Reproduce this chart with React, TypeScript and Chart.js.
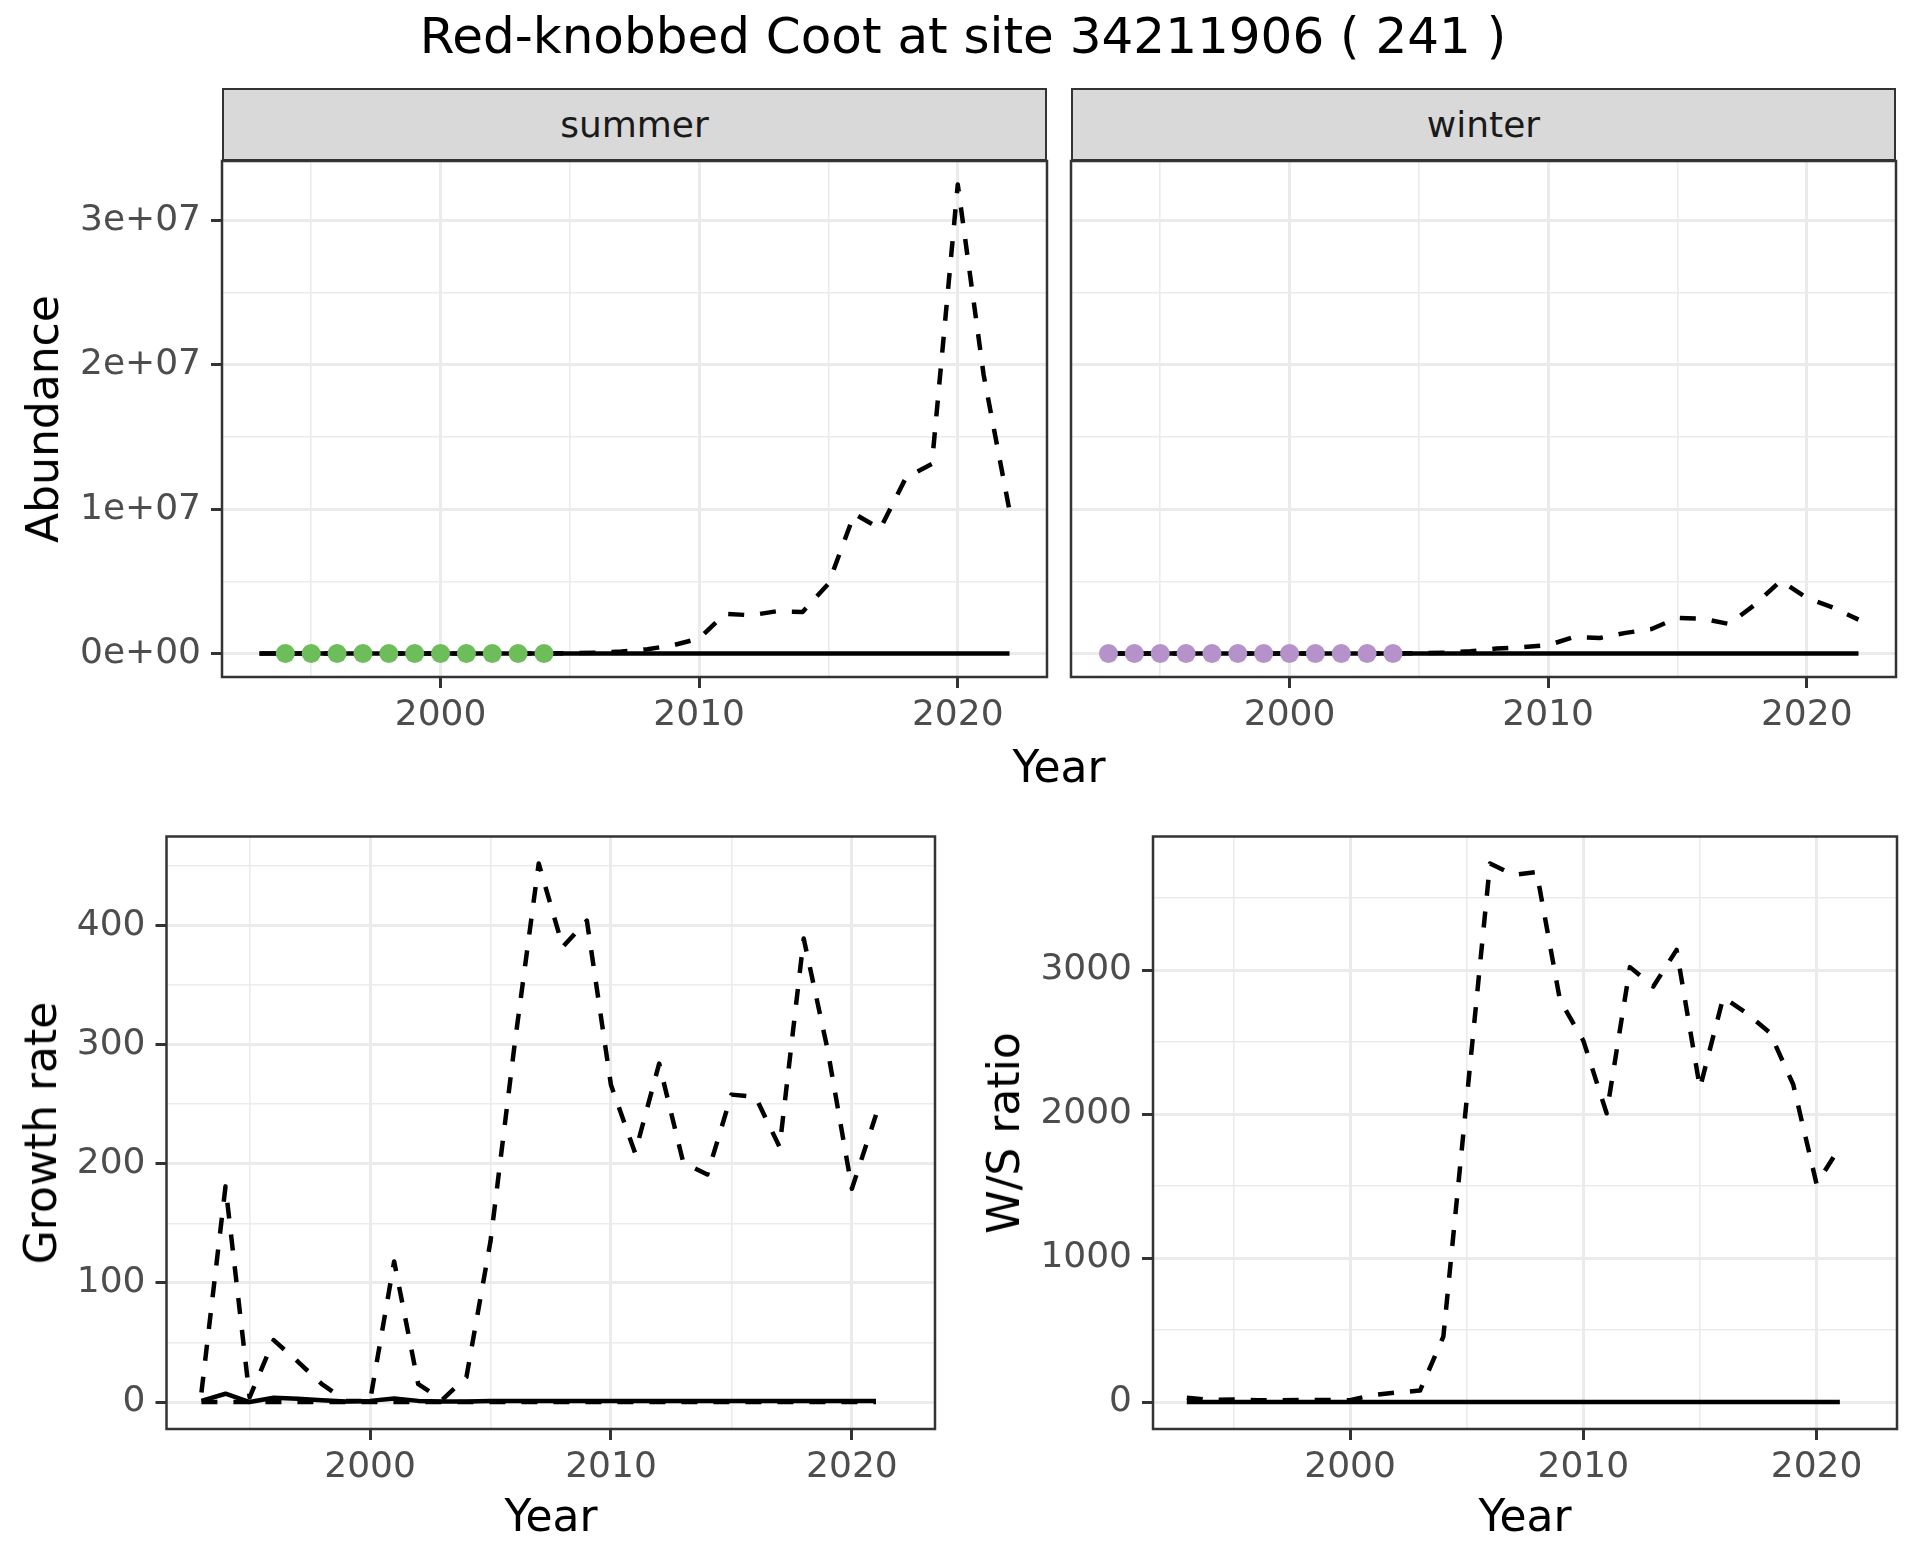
import React, { useEffect, useRef } from "react";
import { Chart, registerables } from "chart.js";

Chart.register(...registerables);

const FONT = "'DejaVu Sans', 'Liberation Sans', sans-serif";

// ---------- data ----------
const YEARS = [1993, 1994, 1995, 1996, 1997, 1998, 1999, 2000, 2001, 2002, 2003, 2004, 2005, 2006, 2007, 2008, 2009, 2010, 2011, 2012, 2013, 2014, 2015, 2016, 2017, 2018, 2019, 2020, 2021, 2022];
const SUMMER_SOLID = [0, 0, 0, 0, 0, 0, 0, 0, 0, 0, 0, 0, 0, 0, 0, 0, 0, 0, 0, 0, 0, 0, 0, 0, 0, 0, 0, 0, 0, 0];
const SUMMER_DASHED = [0, 0, 0, 0, 0, 0, 0, 0, 0, 0, 0, 0, 20000, 50000, 140000, 300000, 580000, 1040000, 2760000, 2650000, 2930000, 2880000, 4840000, 9680000, 8640000, 12200000, 13130000, 32490000, 19300000, 9900000];
const WINTER_SOLID = [0, 0, 0, 0, 0, 0, 0, 0, 0, 0, 0, 0, 0, 0, 0, 0, 0, 0, 0, 0, 0, 0, 0, 0, 0, 0, 0, 0, 0, 0];
const WINTER_DASHED = [0, 0, 0, 0, 0, 0, 0, 0, 0, 0, 0, 0, 20000, 50000, 160000, 350000, 440000, 580000, 1150000, 1080000, 1430000, 1700000, 2470000, 2400000, 2050000, 3390000, 5050000, 3850000, 3200000, 2350000];
const SUMMER_POINT_YEARS = [1994, 1995, 1996, 1997, 1998, 1999, 2000, 2001, 2002, 2003, 2004];
const SUMMER_POINT_VALUES = [0, 0, 0, 0, 0, 0, 0, 0, 0, 0, 0];
const WINTER_POINT_YEARS = [1993, 1994, 1995, 1996, 1997, 1998, 1999, 2000, 2001, 2002, 2003, 2004];
const WINTER_POINT_VALUES = [0, 0, 0, 0, 0, 0, 0, 0, 0, 0, 0, 0];

const RATE_YEARS = [1993, 1994, 1995, 1996, 1997, 1998, 1999, 2000, 2001, 2002, 2003, 2004, 2005, 2006, 2007, 2008, 2009, 2010, 2011, 2012, 2013, 2014, 2015, 2016, 2017, 2018, 2019, 2020, 2021];
const GROWTH_SOLID = [1, 7, 0, 3.6, 2.8, 1.5, 0.5, 1, 3, 1, 0.5, 0.5, 1, 1, 1, 1, 1, 1, 1, 1, 1, 1, 1, 1, 1, 1, 1, 1, 1];
const GROWTH_DASHED = [8, 181, 4, 52, 34, 15, 1, 1, 118, 15, 2, 21, 135, 300, 452, 382, 404, 266, 209, 284, 201, 191, 258, 256, 214, 389, 295, 179, 241];
const GROWTH_DASHED_LOW = [0, 0, 0, 0, 0, 0, 0, 0, 0, 0, 0, 0, 0, 0, 0, 0, 0, 0, 0, 0, 0, 0, 0, 0, 0, 0, 0, 0, 0];
const WS_SOLID = [0, 0, 0, 0, 0, 0, 0, 0, 0, 0, 0, 0, 0, 0, 0, 0, 0, 0, 0, 0, 0, 0, 0, 0, 0, 0, 0, 0, 0];
const WS_DASHED = [30, 14, 18, 13, 13, 14, 14, 13, 50, 66, 80, 455, 2100, 3740, 3660, 3680, 2790, 2510, 2005, 3020, 2885, 3140, 2180, 2810, 2700, 2565, 2205, 1515, 1770];

// ---------- ticks ----------
const X_TICKS = [1995, 2000, 2005, 2010, 2015, 2020];
const X_LABELED = [2000, 2010, 2020];
const ABUND_TICKS = [0, 5000000, 10000000, 15000000, 20000000, 25000000, 30000000];
const ABUND_MAJOR = [0, 10000000, 20000000, 30000000];
const ABUND_LABELS = ["0e+00", "1e+07", "2e+07", "3e+07"];
const GROWTH_TICKS = [0, 50, 100, 150, 200, 250, 300, 350, 400, 450];
const GROWTH_MAJOR = [0, 100, 200, 300, 400];
const GROWTH_LABELS = ["0", "100", "200", "300", "400"];
const WS_TICKS = [0, 500, 1000, 1500, 2000, 2500, 3000, 3500];
const WS_MAJOR = [0, 1000, 2000, 3000];
const WS_LABELS = ["0", "1000", "2000", "3000"];

const X_RANGE = [1991.55, 2023.45];
const ABUND_RANGE = [-1624500, 34114500];
const GROWTH_RANGE = [-22.6, 474.6];
const WS_RANGE = [-187, 3927];

const GREEN = "#6DBE5B";
const PURPLE = "#B592C9";

const pts = (xs: number[], ys: number[]) => xs.map((x, i) => ({ x, y: ys[i] }));

const LW = 4.5;
const solid = (data: any) => ({ data, borderColor: "#000000", borderWidth: LW, borderJoinStyle: "round", pointRadius: 0, tension: 0, fill: false });
const dashed = (data: any) => ({ data, borderColor: "#000000", borderWidth: LW, borderJoinStyle: "round", borderDash: [16, 16], pointRadius: 0, tension: 0, fill: false });
const dots = (data: any, color: string) => ({ data, showLine: false, pointRadius: 9.5, pointBackgroundColor: color, pointBorderWidth: 0, borderColor: color, backgroundColor: color });

const panelBorder = {
  id: "panelBorder",
  afterDraw(chart: any) {
    const { ctx, chartArea: a } = chart;
    ctx.save();
    ctx.strokeStyle = "#333333";
    ctx.lineWidth = 2.5;
    ctx.strokeRect(a.left, a.top, a.right - a.left, a.bottom - a.top);
    ctx.restore();
  },
};

type PanelSpec = {
  left: number; top: number; width: number; height: number;
  yWidth: number; xHeight: number; padTop: number; padRight: number;
  datasets: any[]; yRange: number[]; yTicks: number[]; yMajor: number[]; yLabels: string[]; showY: boolean;
};

const zeroPad = (s: any) => {
  s.paddingTop = 0;
  s.paddingBottom = 0;
  s.paddingLeft = 0;
  s.paddingRight = 0;
};

function build(canvas: HTMLCanvasElement, p: PanelSpec) {
  const isXMajor = (v: number) => X_LABELED.includes(v);
  const isYMajor = (v: number) => p.yMajor.includes(v);
  return new Chart(canvas, {
    type: "line",
    data: { datasets: p.datasets },
    options: {
      animation: false,
      responsive: false,
      devicePixelRatio: 1,
      events: [],
      layout: { padding: { left: 0, top: p.padTop, right: p.padRight, bottom: 0 } },
      plugins: { legend: { display: false }, tooltip: { enabled: false }, title: { display: false } },
      scales: {
        x: {
          type: "linear",
          min: X_RANGE[0],
          max: X_RANGE[1],
          afterBuildTicks: (s: any) => { s.ticks = X_TICKS.map((v) => ({ value: v })); },
          afterFit: (s: any) => { s.height = p.xHeight; zeroPad(s); },
          ticks: {
            autoSkip: false, maxRotation: 0, minRotation: 0, padding: 6, color: "#4D4D4D",
            font: { size: 36, family: FONT },
            callback: (v: any) => (isXMajor(Number(v)) ? String(v) : ""),
          },
          grid: {
            color: "#EBEBEB",
            lineWidth: (c: any) => (c.tick && isXMajor(c.tick.value) ? 3 : 1.6),
            tickLength: 11,
            tickWidth: 3,
            tickColor: (c: any) => (c.tick && isXMajor(c.tick.value) ? "#333333" : "rgba(0,0,0,0)"),
          },
          border: { display: false },
        },
        y: {
          type: "linear",
          min: p.yRange[0],
          max: p.yRange[1],
          afterBuildTicks: (s: any) => { s.ticks = p.yTicks.map((v) => ({ value: v })); },
          afterFit: (s: any) => { s.width = p.yWidth; zeroPad(s); },
          ticks: {
            display: p.showY,
            autoSkip: false, padding: 10, color: "#4D4D4D",
            font: { size: 36, family: FONT },
            callback: (v: any) => {
              const i = p.yMajor.indexOf(Number(v));
              return i >= 0 ? p.yLabels[i] : "";
            },
          },
          grid: {
            color: "#EBEBEB",
            lineWidth: (c: any) => (c.tick && isYMajor(c.tick.value) ? 3 : 1.6),
            tickLength: 11,
            tickWidth: 3,
            tickColor: (c: any) => (p.showY && c.tick && isYMajor(c.tick.value) ? "#333333" : "rgba(0,0,0,0)"),
          },
          border: { display: false },
        },
      },
    } as any,
    plugins: [panelBorder],
  });
}

function Panel({ spec }: { spec: PanelSpec }) {
  const ref = useRef<HTMLCanvasElement>(null);
  useEffect(() => {
    const c = build(ref.current as HTMLCanvasElement, spec);
    return () => c.destroy();
  }, []);
  return (
    <canvas
      ref={ref}
      width={spec.width}
      height={spec.height}
      style={{ position: "absolute", left: spec.left, top: spec.top, width: spec.width, height: spec.height }}
    />
  );
}

const summerSpec: PanelSpec = {
  left: 0, top: 150, width: 1060, height: 600, yWidth: 222, xHeight: 73, padTop: 11, padRight: 13,
  datasets: [
    dots(pts(SUMMER_POINT_YEARS, SUMMER_POINT_VALUES), GREEN),
    solid(pts(YEARS, SUMMER_SOLID)),
    dashed(pts(YEARS, SUMMER_DASHED)),
  ],
  yRange: ABUND_RANGE, yTicks: ABUND_TICKS, yMajor: ABUND_MAJOR, yLabels: ABUND_LABELS, showY: true,
};
const winterSpec: PanelSpec = {
  left: 1060, top: 150, width: 850, height: 600, yWidth: 11, xHeight: 73, padTop: 11, padRight: 14,
  datasets: [
    dots(pts(WINTER_POINT_YEARS, WINTER_POINT_VALUES), PURPLE),
    solid(pts(YEARS, WINTER_SOLID)),
    dashed(pts(YEARS, WINTER_DASHED)),
  ],
  yRange: ABUND_RANGE, yTicks: ABUND_TICKS, yMajor: ABUND_MAJOR, yLabels: ABUND_LABELS, showY: false,
};
const growthSpec: PanelSpec = {
  left: 0, top: 825, width: 950, height: 700, yWidth: 166.5, xHeight: 96, padTop: 11.5, padRight: 15,
  datasets: [
    solid(pts(RATE_YEARS, GROWTH_SOLID)),
    dashed(pts(RATE_YEARS, GROWTH_DASHED_LOW)),
    dashed(pts(RATE_YEARS, GROWTH_DASHED)),
  ],
  yRange: GROWTH_RANGE, yTicks: GROWTH_TICKS, yMajor: GROWTH_MAJOR, yLabels: GROWTH_LABELS, showY: true,
};
const wsSpec: PanelSpec = {
  left: 950, top: 825, width: 960, height: 700, yWidth: 203, xHeight: 96, padTop: 11.5, padRight: 13,
  datasets: [
    solid(pts(RATE_YEARS, WS_SOLID)),
    dashed(pts(RATE_YEARS, WS_DASHED)),
  ],
  yRange: WS_RANGE, yTicks: WS_TICKS, yMajor: WS_MAJOR, yLabels: WS_LABELS, showY: true,
};

const textBase: React.CSSProperties = { position: "absolute", fontFamily: FONT, color: "#000000", whiteSpace: "nowrap", lineHeight: 1 };

function Strip({ left, label }: { left: number; label: string }) {
  return (
    <div
      style={{
        position: "absolute", left, top: 88, width: 825, height: 73, boxSizing: "border-box",
        background: "#D9D9D9", border: "2.5px solid #333333", display: "flex", alignItems: "center",
        justifyContent: "center", fontFamily: FONT, fontSize: 36, color: "#1A1A1A", lineHeight: 1,
      }}
    >
      {label}
    </div>
  );
}

function YTitle({ x, y, text }: { x: number; y: number; text: string }) {
  return (
    <div style={{ ...textBase, left: x, top: y, fontSize: 44, transform: "translate(-50%, -50%) rotate(-90deg)" }}>{text}</div>
  );
}

function XTitle({ x, top, text }: { x: number; top: number; text: string }) {
  return <div style={{ ...textBase, left: x, top, fontSize: 44, transform: "translateX(-50%)" }}>{text}</div>;
}

export default function App() {
  useEffect(() => {
    document.body.style.margin = "0";
  }, []);
  return (
    <div style={{ position: "relative", width: 1920, height: 1560, background: "#FFFFFF", overflow: "hidden" }}>
      <div style={{ ...textBase, left: 0, width: 1926, top: 11, fontSize: 50, textAlign: "center" }}>
        Red-knobbed Coot at site 34211906 ( 241 )
      </div>
      <Strip left={222} label="summer" />
      <Strip left={1071} label="winter" />
      <Panel spec={summerSpec} />
      <Panel spec={winterSpec} />
      <Panel spec={growthSpec} />
      <Panel spec={wsSpec} />
      <YTitle x={43} y={419} text="Abundance" />
      <XTitle x={1059} top={744.5} text="Year" />
      <YTitle x={40.5} y={1133} text="Growth rate" />
      <YTitle x={1004} y={1133} text="W/S ratio" />
      <XTitle x={551} top={1493.5} text="Year" />
      <XTitle x={1525} top={1493.5} text="Year" />
    </div>
  );
}
